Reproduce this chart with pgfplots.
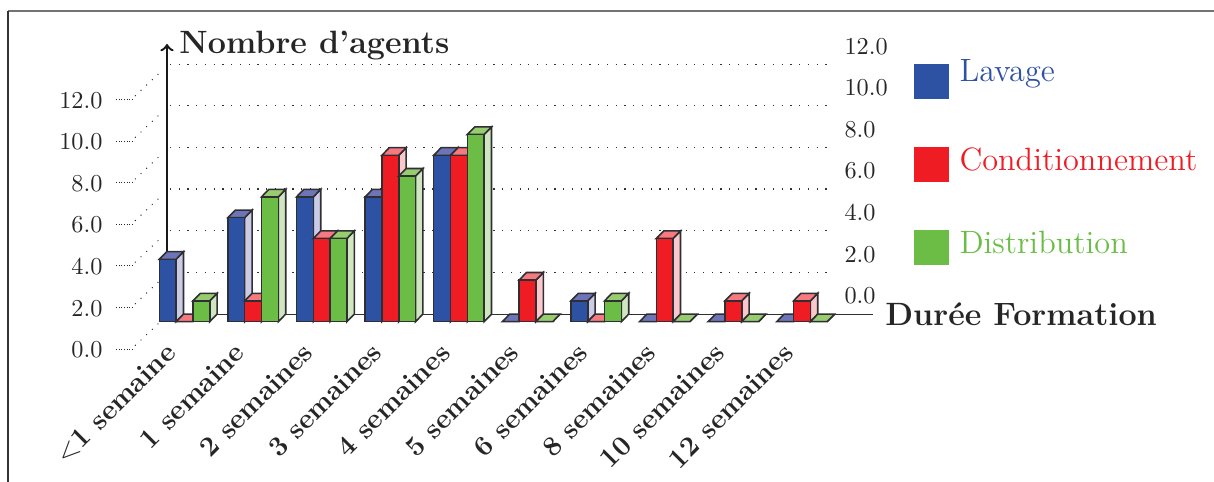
\documentclass[border=0pt]{standalone}
\usepackage{pgfplots}
\usepackage{pgfplotstable}
\pgfplotsset{compat=1.18}

\definecolor{cblue}{HTML}{2E52A3}
\definecolor{cred}{HTML}{EF1C24}
\definecolor{cgreen}{HTML}{6BBD45}
\definecolor{tblue}{HTML}{6D74B8}
\definecolor{tred}{HTML}{F5797F}
\definecolor{tgreen}{HTML}{97CC6F}
\definecolor{sblue}{HTML}{CBCBE6}
\definecolor{sred}{HTML}{FAC8CC}
\definecolor{sgreen}{HTML}{CFE6C0}
\definecolor{edge}{HTML}{2F2F33}

\pgfplotstableread{
x lavage cond distrib
0 3 0 1
1 5 1 6
2 6 4 4
3 6 8 7
4 8 8 9
5 0 2 0
6 1 0 1
7 0 4 0
8 0 1 0
9 0 1 0
}\durees

\def\bw{0.245}
\def\dx{0.108}
\def\dy{0.365}

% top and side faces of one series: column, bar shift, top colour, side colour
\newcommand{\depthfaces}[4]{%
  \pgfplotsforeachungrouped \r in {0,...,9}{%
    \pgfplotstablegetelem{\r}{#1}\of\durees
    \pgfmathsetmacro\v{\pgfplotsretval}%
    \pgfmathsetmacro\xa{\r+#2-\bw/2}%
    \pgfmathsetmacro\xb{\r+#2+\bw/2}%
    \pgfmathsetmacro\xc{\xa+\dx}%
    \pgfmathsetmacro\xd{\xb+\dx}%
    \pgfmathsetmacro\vt{\v+\dy}%
    \addplot[forget plot, no marks, draw=edge, line width=0.65pt, fill=#4]
      coordinates {(\xb,0) (\xd,\dy) (\xd,\vt) (\xb,\v)} -- cycle;
    \addplot[forget plot, no marks, draw=edge, line width=0.65pt, fill=#3]
      coordinates {(\xa,\v) (\xc,\vt) (\xd,\vt) (\xb,\v)} -- cycle;
  }%
}

\begin{document}
\begin{tikzpicture}
\useasboundingbox (0,0) rectangle (500.17pt,198.58pt);

\begin{axis}[
  at={(0,0)}, anchor=south west,
  scale only axis, width=500.17pt, height=198.58pt,
  xmin=-2.6895, xmax=15.007, ymin=-7.7067, ymax=15.466,
  clip=false,
  axis line style={draw=none}, tick style={draw=none}, major tick length=0pt,
  xtick={0,...,9},
  xticklabels={$<$1 semaine, 1 semaine, 2 semaines, 3 semaines, 4 semaines,
    5 semaines, 6 semaines, 8 semaines, 10 semaines, 12 semaines},
  xticklabel style={rotate=45, anchor=east, inner sep=0pt,
    font=\fontsize{11.5}{13}\selectfont\bfseries, text=black!85,
    xshift=35.2pt, yshift=43pt},
  ytick={0,2,...,12},
  yticklabel style={anchor=east, inner sep=0pt, xshift=42.4pt, yshift=-11.65pt, text=black!85},
  y tick label style={/pgf/number format/.cd, fixed, fixed zerofill, precision=1},
]

% frame
\addplot[forget plot, no marks, draw=black!55, line width=0.5pt]
  coordinates {(-2.573,14.94) (15.007,14.94)};
\addplot[forget plot, no marks, draw=black!80, line width=0.5pt]
  coordinates {(-2.573,-7.7067) (-2.573,14.94)};

% back wall and left wall dots
\pgfplotsforeachungrouped \g in {2,4,...,12}{%
  \pgfmathsetmacro\yg{\g+\dy+0.012}%
  \addplot[forget plot, no marks, black!80, line width=0.5pt, dash pattern=on 0.5pt off 3.1pt]
    coordinates {(-0.2114,\yg) (9.453,\yg)};
}
\pgfplotsforeachungrouped \g in {0,2,...,12}{%
  \pgfmathsetmacro\ya{\g-1.3125}%
  \pgfmathsetmacro\yb{\g-1.15}%
  \pgfmathsetmacro\yc{\g+0.075}%
  \addplot[forget plot, no marks, black!85, line width=0.4pt, dash pattern=on 0.4pt off 0.7pt]
    coordinates {(-0.9985,\ya) (-0.7507,\ya)};
  \addplot[forget plot, no marks, black!85, line width=0.4pt, dash pattern=on 0.4pt off 2.8pt]
    coordinates {(-0.7216,\yb) (-0.328,\yc)};
}

% floor line and vertical axis
\addplot[forget plot, no marks, draw=edge, line width=0.4pt]
  coordinates {(-0.2551,0.365) (10.037,0.365)};
\addplot[forget plot, no marks, black!90, line width=1pt, -{to}]
  coordinates {(-0.2551,0.365) (-0.2551,13.35)};

% bars, series by series
\depthfaces{lavage}{-0.245}{tblue}{sblue}
\addplot[ybar, bar width=0.245, bar shift=-0.245, draw=edge, line width=0.65pt, fill=cblue]
  table[x=x, y=lavage] {\durees};
\depthfaces{cond}{0}{tred}{sred}
\addplot[ybar, bar width=0.245, bar shift=0, draw=edge, line width=0.65pt, fill=cred]
  table[x=x, y=cond] {\durees};
\depthfaces{distrib}{0.245}{tgreen}{sgreen}
\addplot[ybar, bar width=0.245, bar shift=0.245, draw=edge, line width=0.65pt, fill=cgreen]
  table[x=x, y=distrib] {\durees};

% axis titles
\node[anchor=base west, inner sep=0pt, text=black!85, font=\fontsize{13.3}{15}\selectfont\bfseries]
  at (axis cs:-0.0804,12.90) {Nombre d’agents};
\node[anchor=base west, inner sep=0pt, text=black!85, font=\fontsize{13.3}{15}\selectfont\bfseries]
  at (axis cs:10.21,-0.16) {Durée Formation};

% legend
\fill[cblue] (axis cs:10.635,12.39) rectangle (axis cs:11.145,10.71);
\fill[cred] (axis cs:10.635,8.40) rectangle (axis cs:11.145,6.72);
\fill[cgreen] (axis cs:10.635,4.41) rectangle (axis cs:11.145,2.73);
\node[anchor=base west, inner sep=0pt, text=cblue, font=\fontsize{13.3}{15}\selectfont]
  at (axis cs:11.29,11.57) {Lavage};
\node[anchor=base west, inner sep=0pt, text=cred, font=\fontsize{13.3}{15}\selectfont]
  at (axis cs:11.29,7.29) {Conditionnement};
\node[anchor=base west, inner sep=0pt, text=cgreen, font=\fontsize{13.3}{15}\selectfont]
  at (axis cs:11.29,3.30) {Distribution};
\end{axis}

% numbers on the right
\begin{axis}[
  at={(0,0)}, anchor=south west,
  scale only axis, width=500.17pt, height=198.58pt,
  xmin=-2.6895, xmax=15.007, ymin=-7.7067, ymax=15.466,
  axis line style={draw=none}, tick style={draw=none}, major tick length=0pt,
  xtick=\empty,
  ytick={0,2,...,12}, yticklabel pos=right,
  yticklabel style={anchor=west, inner sep=0pt, xshift=-152.4pt, yshift=10.6pt, text=black!85},
  y tick label style={/pgf/number format/.cd, fixed, fixed zerofill, precision=1},
]
\end{axis}
\end{tikzpicture}
\end{document}
